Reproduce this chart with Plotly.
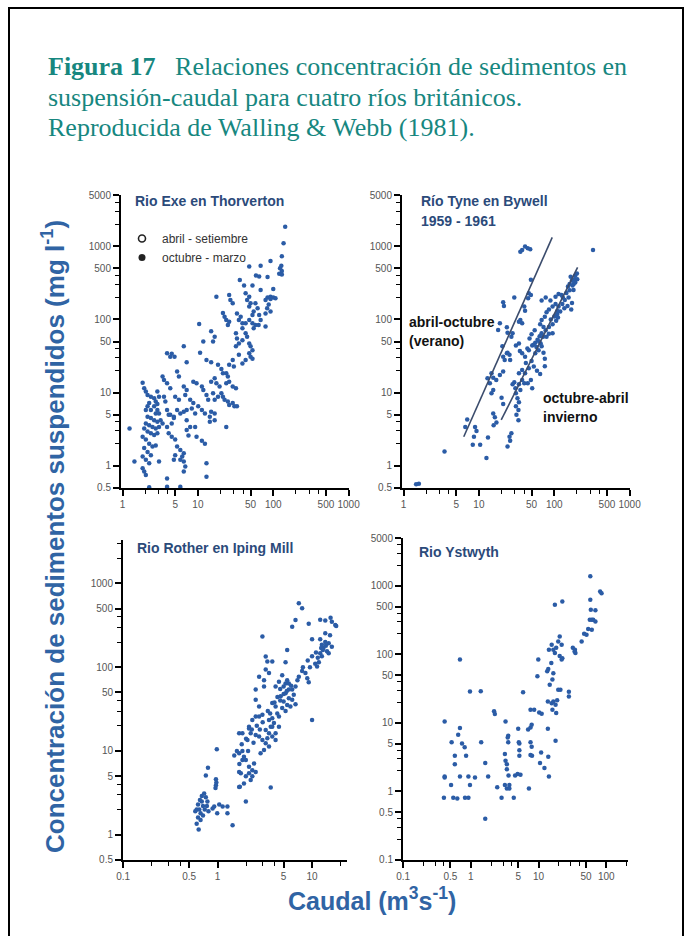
import plotly.graph_objects as go

W, H = 688, 936

# ---------------- data (caudal Q m3/s, concentracion C mg/l) ----------------
exe_points = [
    (144,1850),(137,1100),(130,730),(68,540),(92,630),(48,530),
    (128,540),(123,500),(130,460),(120,420),(130,410),
    (65,385),(59,400),(84,380),(36,346),(41,290),(53,290),(68,253),(100,260),
    (84,200),(92,205),(100,200),(107,195),(92,190),(17.6,205),
    (26,215),(27,185),(29,166),(43,228),(48,205),(45,185),(50,166),(48,150),
    (79,185),(87,160),(83,142),(79,121),(92,128),
    (58,166),(62,142),(55,128),(53,115),(65,115),
    (21.5,123),(22.6,109),(23.8,98),(26,93),(25,84),
    (33,121),(37,109),(35,98),(39,89),(39,76),
    (43,89),(48,98),(53,89),(58,84),(55,76),(64,84),(68,98),(79,80),
    (10.4,87),(11.8,50),(15,69),(16.7,58),(15.9,50),
    (32,65),(33,55),(35,47),(32,43),(39,52),
    (43,65),(45,58),(48,47),(50,43),(53,38),(48,34.5),
    (50,31),(53,29),(43,28),(39,25),(35,33),(29,28),(26,24),(30,22.7),
    (6.5,43),(4.5,34),(4.9,31),(4.3,31),(3.9,34.5),(10.7,35),(7.1,26),
    (13,28),(15,26),(18.5,24),(20.5,21),(5.3,19.4),(5.6,16.6),
    (21.5,18.4),(23.8,18.4),(25,16.6),(26,14.1),(23.8,13.4),
    (16.7,15.7),(15,14.1),(17.6,13.4),(19.4,12.1),(29,12.1),(32,11.5),
    (3.4,16.6),(3.55,14.9),(8.7,14.1),(9.6,13.4),(11.3,12.1),
    (3.9,13.4),(4.3,11.5),(6.5,12.1),(7.1,10.9),(6.8,9.3),(2.9,10.4),(3.05,8.8),
    (11.8,10.9),(13,9.3),(13.7,8),(15.9,9.8),(16.7,8),(18.5,8.8),
    (20.5,9.8),(21.5,8.8),(22.6,8),(25,7.6),(26,6.8),(29,7.2),(30.5,6.5),(33,6.5),
    (7.9,8),(8.7,7.2),(8.3,6.1),(7.1,5.8),(6.5,5.5),(9.2,5.2),
    (10.1,6.5),(11.3,5.8),(12.4,5.2),(5.3,5.8),(5.85,5.2),(4.8,4.7),
    (15,5.5),(16.7,5.2),(14.4,4.7),(16.7,4.2),(14.4,4),(23.8,3.4),
    (3.9,5.8),(4.1,5),(7.1,4.2),(7.9,3.4),(7.1,3.1),(7.5,2.6),
    (9.2,3.4),(9.6,2.5),(11.3,2.2),(12.4,2.0),(13,1.09),(13,0.71),
    (4.3,5.0),(4.8,4.5),(4.5,3.8),(4.1,2.8),(4.5,2.5),(5.0,2.3),
    (5.3,1.84),(5.85,1.65),(6.5,1.49),(6.2,1.34),(6.5,1.15),(6.8,0.98),(6.5,0.84),(5.85,1.21),
    (5.0,1.4),(4.8,1.21),(3.9,3.4),(3.9,0.67),(5.85,0.52),(3.9,0.52),(2.26,0.51),
    (1.85,13.7),(1.94,11.5),(2.04,10.4),(2.15,9.3),(2.38,8.8),(2.63,8.4),(2.76,7.6),(2.9,7.0),
    (2.26,7.2),(2.15,6.5),(2.04,5.8),(2.38,5.8),(2.63,6.5),(2.9,5.8),(3.05,5.2),(2.76,5.2),
    (2.15,4.7),(2.38,4.5),(2.63,4.2),(2.9,4.0),(3.2,4.2),(3.4,3.8),
    (2.04,3.8),(2.26,3.6),(2.5,3.4),(2.76,3.25),(3.05,3.4),
    (1.94,3.25),(2.15,2.95),(2.38,2.8),(2.63,2.65),(2.9,2.8),
    (1.85,2.5),(2.04,2.3),(2.26,2.0),(2.5,1.84),(2.76,1.9),
    (1.94,1.75),(2.15,1.55),(2.38,1.4),(3.05,1.15),(1.85,1.34),(2.04,1.21),(2.26,1.09),
    (1.85,0.93),(1.94,0.84),(2.04,0.75),(1.24,3.25),(1.44,1.15),
    (3.55,8.8),(3.7,7.6),(5.0,8.8),(5.6,8.0),
]

tyne_points = [
    (1.6,0.57),(1.47,0.56),(3.5,1.57),(12.6,1.28),(8.3,1.95),(10.4,1.95),
    (8.6,2.5),(9.3,3.0),(8.9,3.4),(6.6,3.4),(7.0,4.3),(13.2,2.45),
    (24,1.84),(26,2.2),(25.5,2.5),(27,2.8),(15.5,5.2),(16.3,4.6),(17.1,3.9),(15.7,3.6),
    (21,7.0),(20,8.5),(14.7,9.8),(15.5,10.9),(14,13.4),(13,15.7),(15.5,16),(14.7,18.4),
    (17,14.9),(21,19.4),(22,28),(21,31),(23.5,34.5),(20.5,43),(19,17.5),
    (24,35),(25.5,33),(26,28),(21,172),(21.5,153),(29.5,200),
    (27,58),(28,65),(23.5,78),(24,66),(19,89),(18,72),(34,47),(31,44),(35,37),
    (35.5,98),(37.5,89),(34,93),(40,150),(41,132),(46,228),(49,215),(45,195),(49,350),
    (35.5,840),(37.5,890),(41,990),(44.5,940),(48,910),(327,890),
    (31,9.8),(32.5,8.4),(34,7.4),(31,6.5),(33.5,5.8),(30.5,11.5),(34,13.0),(35.5,10.9),
    (37.5,14.9),(40,13.4),(34,18.4),(37.5,20.4),(41,18.4),(46,21.5),(42,25.5),(50,27),
    (37.5,34.5),(41,31),(46,38),(51,44),(56,48),(60,53),(64,59),(68,65),(71,58),
    (56,34.5),(62,38),(68,43),(72,35),(75,29),(75,23),(53.5,22.7),(59,20),(65,18),
    (49,14.9),(44.5,13.4),(51,11.5),
    (65,86),(68,98),(75,109),(79,125),(85,137),(95,150),(104,163),(114,150),(128,163),
    (72,79),(77,71),(85,79),(95,86),(106,96),(79,58),(85,64),(95,65),
    (104,205),(114,222),(125,215),(138,185),(155,200),(172,168),
    (152,281),(160,305),(172,340),(181,305),(186,354),(190,394),(200,426),(180,253),(165,384),(202,354),
    (109,118),(112,106),(68,182),(77,200),(89,182),(47,55),(50,63),(55,71),
    (29.5,13.9),(28,13),(31.5,5.0),(33.5,4.2),(120,128),(136,142),(150,153),(168,137),
    (44,40),(53,45),(58,42),(63,50),(66,47),(90,100),(100,110),(110,130),
    (130,200),(145,230),(160,250),(175,290),(190,320),
]

rother_points = [
    (0.60,2.0),(0.62,2.3),(0.65,2.6),(0.68,2.9),(0.72,3.1),(0.75,2.8),(0.78,2.5),(0.66,1.8),
    (0.62,1.6),(0.70,2.2),(0.73,2.0),(0.58,1.9),(0.60,1.35),(0.63,1.15),(0.66,1.5),(0.70,1.7),
    (0.77,2.2),(0.80,1.9),(0.68,2.5),(0.64,2.0),
    (0.885,2.05),(0.92,2.17),(1.04,2.3),(1.13,2.17),(1.27,2.17),(0.99,1.8),(1.27,1.8),(1.44,1.3),
    (0.75,5.1),(0.79,6.3),(0.96,4.6),(0.97,4.2),(0.96,3.9),(0.95,3.6),(0.98,10.5),
    (1.72,3.75),(1.69,3.7),(1.99,2.5),(3.65,3.65),
    (1.69,5.6),(1.76,5.4),(1.83,7.8),(1.83,10),(1.69,9.4),(1.9,4.1),(1.99,7.8),(2.15,6.5),
    (2.33,5.9),(2.53,5.6),(2.33,5.0),(2.43,7.1),(2.15,5.4),(1.99,5.0),(2.24,4.5),
    (1.69,16.3),(1.83,16.3),(2.15,19.5),(2.07,13.5),(2.33,23.5),(2.15,18.6),(2.24,16.3),
    (2.53,15.5),(2.75,14.9),(2.98,13.5),(3.23,12.4),(3.5,11.3),(3.1,10.3),(2.85,9.4),
    (3.23,17.8),(3.5,16.3),(3.79,14.9),(4.11,13.5),(4.46,19.5),(3.79,19.5),(4.11,16.3),(3.36,14.2),
    (2.53,41),(2.75,34),(2.53,25.8),(2.75,25.8),(2.98,27),
    (3.79,37.5),(4.11,34),(4.46,25.8),(4.28,28),(3.79,24.5),(3.5,23.5),(3.95,21.5),(3.65,19.5),
    (5.24,49),(5.68,54),(6.16,41),(6.68,36),(5.9,34),(4.65,45),(5.0,39),(5.45,35.5),
    (4.83,32.5),(5.24,30),(5.68,42.5),(6.4,47),
    (2.75,77),(3.1,70),(3.5,85),(4.11,59),(4.83,80),(4.46,67),(5.0,59),(3.1,59),(2.53,54),
    (3.23,134),(3.36,117),(3.79,117),(3.23,94),(2.98,232),
    (7.24,580),(7.85,505),(6.16,305),(6.68,367),(9.22,330),
    (12.2,370),(13.8,360),(15.7,390),(16.2,350),(17.6,320),(18,310),(10,215),
    (12.2,215),(12.7,185),(13.8,200),(15,193),(15.5,240),(13.8,254),(13.2,170),(14.4,155),
    (16.2,176),(12.2,147),(12.7,135),(15,147),
    (10.8,110),(11.8,115),(11.3,102),(10,135),
    (7.85,90),(8.51,85),(8.9,74),(9.22,66),(7.24,77),(6.68,59),(6.16,54),(5.68,64),
    (5.24,64),(5.45,70),(5.24,115),(5.45,160),(10,23.5),
    (4.6,55),(5.0,48),(5.4,52),(4.3,44),(4.0,38),(4.6,40),(3.4,30),(3.0,22),(2.6,20),
    (2.3,18),(2.0,14),(1.8,12),(1.6,10),(1.5,8.8),(1.7,7.0),(1.9,8.5),(2.1,10),(2.4,12.5),
    (2.8,18),(3.6,28),(6.0,60),(7.0,70),(8.0,100),(9.0,120),(11.0,150),(12.5,170),
    (14,180),(13,160),(11.5,130),(9.5,100),
]

ystwyth_points = [
    (0.41,1.65),(0.41,1.6),(0.41,10.5),(0.40,0.81),(0.52,5.2),(0.51,1.24),(0.58,3.3),
    (0.58,2.5),(0.55,0.81),(0.63,0.79),(0.65,6.7),(0.69,8.4),(0.69,84),(0.69,1.65),
    (0.74,5.0),(0.81,4.4),(0.85,3.3),(0.82,0.81),(0.92,0.81),(0.92,1.65),(0.97,1.24),
    (0.97,28.8),(1.15,1.6),(1.42,5.2),(1.4,29),(1.63,2.6),(1.63,0.40),(1.8,1.65),
    (2.2,14.8),(2.26,13.5),(2.45,1.15),(2.84,0.81),(3.25,10.5),(3.18,3.5),(3.25,2.8),
    (3.4,2.5),(3.56,6.5),(3.5,6.1),(3.56,5.2),(3.4,2.1),(3.18,1.24),(3.4,1.1),(3.7,1.24),
    (3.7,1.1),(3.6,1.7),(4.3,0.81),(4.5,1.7),(4.9,1.8),(5,8.2),(5.1,5.2),(5.2,5.0),
    (5.2,4.0),(5.2,3.3),(5.4,1.75),(5.9,28),(7.2,1.1),(7.0,8.0),(7.6,8.6),(7.9,9.4),
    (7.6,15.5),(8.6,15.5),(7.6,5.2),(7.9,4.5),(7.6,3.4),(8.0,3.3),(9.9,84),(9.6,48),
    (10.2,14.2),(11.1,13.6),(10.9,3.7),(10.5,2.6),(12.2,2.2),(13.7,8.2),(13.7,20.6),
    (13.9,3.2),(14.2,1.65),(13.4,57),(13.9,61),(14.6,36),(15.6,19.3),(14.2,117),
    (15.6,138),(16.5,117),(15.4,75),(16,43),(16.5,53),(16,15.5),(16.5,20.6),(17.8,18.4),
    (17.4,530),(17.4,105),(17.8,5.5),(18.2,13.9),(18.8,21.5),(18.2,125),(19.5,155),
    (20.5,183),(19.5,30.5),(21,30.5),(22.4,594),(21.9,138),(20.5,95),(21.9,84),(22.4,88),
    (28,28.5),(28,24.3),(32,125),(34.4,117),(35,105),(34,110),(43.2,155),(47,200),
    (51,194),(54,235),(57,321),(61,321),(64,321),(69,303),(59,449),(61,229),(58,628),
    (58,1380),(69,440),(81,830),(85,780),
]

# regression lines of the Tyne panel (end points)
tyne_verano_q = [6.3, 94]
tyne_verano_c = [2.5, 1320]
tyne_invierno_q = [19.8, 204]
tyne_invierno_c = [4.24, 514]

# tick labels
exe_xticks = [1, 5, 10, 50, 100, 500, 1000]
exe_yticks = [0.5, 1, 5, 10, 50, 100, 500, 1000, 5000]
rother_xticks = [0.1, 0.5, 1, 5, 10]
rother_yticks = [0.5, 1, 5, 10, 50, 100, 500, 1000]
yst_xticks = [0.1, 0.5, 1, 5, 10, 50, 100]
yst_yticks = [0.1, 0.5, 1, 5, 10, 50, 100, 500, 1000, 5000]

title_lines = [
    "<b>Figura 17</b>\u00a0\u00a0\u00a0Relaciones concentración de sedimentos en",
    "suspensión-caudal para cuatro ríos británicos.",
    "Reproducida de Walling &amp; Webb (1981).",
]

def minors(lo, hi):
    out = []
    d = lo
    while d < hi:
        out += [2 * d, 3 * d, 4 * d]
        d *= 10
    return out

# ---------------- figure ----------------
DOT = "#2b5ca6"
TICKC = "#555555"
TITLEC = "#2b4a7a"
BLUE = "#3064a4"
TEAL = "#17877f"

def px(x):
    return x / W

def py(y):
    return 1 - y / H

fig = go.Figure()

def add_pts(points, xa, ya):
    q = [p[0] for p in points]
    c = [p[1] for p in points]
    fig.add_trace(go.Scatter(x=q, y=c, mode="markers", xaxis=xa, yaxis=ya,
                             marker=dict(size=4.5, color=DOT, line=dict(width=0)),
                             showlegend=False, hoverinfo="skip"))

add_pts(exe_points, "x", "y")
add_pts(tyne_points, "x2", "y2")
add_pts(rother_points, "x3", "y3")
add_pts(ystwyth_points, "x4", "y4")

for q, c in [(tyne_verano_q, tyne_verano_c), (tyne_invierno_q, tyne_invierno_c)]:
    fig.add_trace(go.Scatter(x=q, y=c, mode="lines", xaxis="x2", yaxis="y2",
                             line=dict(color="#3b4c6c", width=1.6),
                             showlegend=False, hoverinfo="skip"))

# legend entries (Exe panel)
fig.add_trace(go.Scatter(x=[None], y=[None], mode="markers", name="abril - setiembre",
                         marker=dict(symbol="circle-open", size=7, color="#222",
                                     line=dict(width=1.6, color="#222"))))
fig.add_trace(go.Scatter(x=[None], y=[None], mode="markers", name="octubre - marzo",
                         marker=dict(symbol="circle", size=7, color="#222")))

def xaxis(dom, rng, ticks, anchor, mn):
    return dict(type="log", domain=[px(dom[0]), px(dom[1])], range=rng, anchor=anchor,
                tickvals=ticks, ticktext=[f"{t:g}" for t in ticks],
                ticks="outside", ticklen=6, tickwidth=1.5, tickcolor="black",
                tickfont=dict(family="Liberation Sans", size=10, color=TICKC),
                showline=True, linecolor="black", linewidth=2, showgrid=False,
                zeroline=False, automargin=False,
                minor=dict(tickvals=mn, ticks="outside", ticklen=4, tickwidth=1.2,
                           tickcolor="black", showgrid=False))

def yaxis(dom, rng, ticks, anchor, mn):
    d = xaxis((0, 1), rng, ticks, anchor, mn)
    d["domain"] = [py(dom[1]), py(dom[0])]
    return d

fig.update_layout(
    width=W, height=H, margin=dict(l=0, r=0, t=0, b=0),
    template="none", paper_bgcolor="white", plot_bgcolor="rgba(0,0,0,0)",
    xaxis=xaxis((121, 349), [-0.02, 3.005], exe_xticks, "y", minors(1, 1000)),
    yaxis=yaxis((195, 488), [-0.302, 3.70], exe_yticks, "x", minors(0.1, 5000)),
    xaxis2=xaxis((402, 630), [-0.02, 3.005], exe_xticks, "y2", minors(1, 1000)),
    yaxis2=yaxis((195, 488), [-0.302, 3.70], exe_yticks, "x2", minors(0.1, 5000)),
    xaxis3=xaxis((123, 347), [-1.002, 1.37], rother_xticks, "y3", minors(0.1, 20)),
    yaxis3=yaxis((540, 860), [-0.302, 3.519], rother_yticks, "x3", minors(0.1, 3000)),
    xaxis4=xaxis((403, 628), [-1.002, 2.32], yst_xticks, "y4", minors(0.1, 200)),
    yaxis4=yaxis((538, 860), [-1.002, 3.70], yst_yticks, "x4", minors(0.1, 5000)),
    legend=dict(x=px(122), y=py(224), xanchor="left", yanchor="top",
                bgcolor="rgba(0,0,0,0)", font=dict(family="Liberation Sans", size=12, color="#333"),
                itemwidth=30, tracegroupgap=0),
)

# frame
fig.add_shape(type="rect", xref="paper", yref="paper", x0=px(9), x1=px(683), y0=-0.02, y1=py(8),
              line=dict(color="black", width=2))

ann = []
for i, line in enumerate(title_lines):
    ann.append(dict(text=line, x=px(46), y=py(67 + 30.5 * i), xanchor="left", yanchor="middle",
                    align="left", font=dict(family="Liberation Serif", size=26, color=TEAL)))
ann.append(dict(text="<b>Concentración de sedimentos suspendidos (mg l<sup>-1</sup>)</b>",
                x=px(53), y=py(537), textangle=-90, xanchor="center", yanchor="middle",
                font=dict(family="Liberation Sans", size=26, color=BLUE)))
ann.append(dict(text="<b>Caudal (m<sup>3</sup>s<sup>-1</sup>)</b>",
                x=px(372), y=py(899), xanchor="center", yanchor="middle",
                font=dict(family="Liberation Sans", size=25, color=BLUE)))

def lab(text, x, y, size=14, color=TITLEC):
    ann.append(dict(text=f"<b>{text}</b>", x=px(x), y=py(y), xanchor="left", yanchor="middle",
                    align="left", font=dict(family="Liberation Sans", size=size, color=color)))

lab("Rio Exe en Thorverton", 133, 201)
lab("Río Tyne en Bywell", 419, 201)
lab("1959 - 1961", 419, 221)
lab("Rio Rother en Iping Mill", 135, 548)
lab("Rio Ystwyth", 417, 552)
lab("abril-octubre", 407, 322, 14, "#111")
lab("(verano)", 407, 341, 14, "#111")
lab("octubre-abril", 541, 398, 14, "#111")
lab("invierno", 541, 417, 14, "#111")

for a in ann:
    a.update(xref="paper", yref="paper", showarrow=False)
fig.update_layout(annotations=ann)

fig.write_html("out.html")
